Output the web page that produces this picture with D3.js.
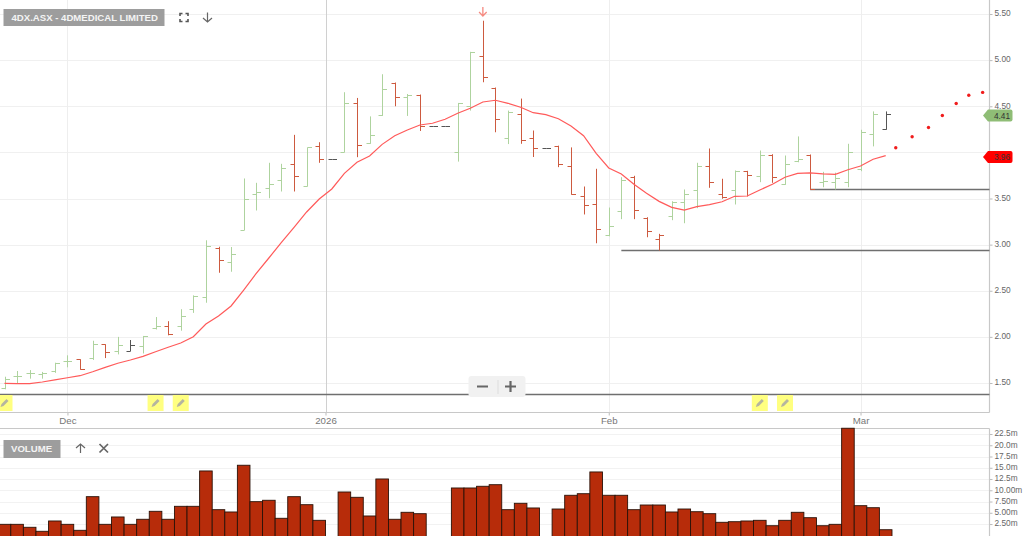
<!DOCTYPE html>
<html><head><meta charset="utf-8">
<script src="https://cdnjs.cloudflare.com/ajax/libs/d3/7.8.5/d3.min.js"></script>
<style>html,body{margin:0;padding:0;background:#fff;overflow:hidden}svg{display:block;font-family:"Liberation Sans",Arial,sans-serif}</style>
</head><body><svg id="c" width="1024" height="536"></svg>
<script>
const title = "4DX.ASX - 4DMEDICAL LIMITED";
const opens = [1.445,1.576,1.605,1.594,1.627,1.735,1.757,1.775,1.92,1.85,1.85,1.90,2.10,2.12,2.118,2.30,2.435,2.967,2.81,3.156,3.554,3.616,3.70,3.876,3.638,4.07,3.93,4.0,4.54,4.107,4.40,4.757,4.60,4.627,4.29,4.29,4.005,4.503,5.047,4.703,4.16,4.413,4.153,4.052,4.073,3.85,3.53,3.443,3.10,3.36,3.731,3.29,3.06,3.308,3.467,3.59,3.85,3.551,3.59,3.80,3.746,3.976,3.66,3.908,3.975,3.677,3.677,3.677,3.822,4.203,4.25];
const highs = [1.568,1.63,1.64,1.62,1.72,1.80,1.757,1.958,1.92,2.0,1.966,2.01,2.215,2.17,2.30,2.45,3.047,2.977,2.974,3.717,3.67,3.887,3.876,4.19,4.053,4.11,3.93,4.652,4.59,4.39,4.847,4.757,4.633,4.627,4.29,4.29,4.536,5.09,5.427,4.703,4.453,4.583,4.237,4.052,4.073,4.054,3.63,3.822,3.402,3.731,3.746,3.297,3.117,3.47,3.598,3.887,4.042,3.714,3.804,3.80,4.02,3.98,3.966,4.173,3.977,3.789,3.78,4.093,4.245,4.444,4.444];
const lows = [1.432,1.49,1.547,1.547,1.61,1.67,1.644,1.75,1.77,1.81,1.844,1.82,2.08,2.017,2.067,2.26,2.37,2.695,2.706,3.156,3.37,3.503,3.576,3.576,3.63,3.887,3.93,4.0,3.948,4.093,4.395,4.5,4.395,4.232,4.29,4.29,3.90,4.453,4.76,4.218,4.09,4.093,3.95,4.052,3.84,3.541,3.327,3.015,3.09,3.276,3.276,3.08,2.936,3.265,3.232,3.395,3.616,3.497,3.435,3.522,3.677,3.67,3.648,3.893,3.598,3.622,3.598,3.622,3.796,4.065,4.246];
const closes = [1.54,1.58,1.605,1.61,1.713,1.742,1.652,1.92,1.84,1.91,1.91,2.006,2.12,2.035,2.223,2.44,2.985,2.833,2.895,3.5,3.568,3.652,3.828,3.742,4.053,3.93,3.93,4.54,4.082,4.19,4.69,4.60,4.627,4.29,4.29,4.29,4.533,5.085,4.816,4.367,4.44,4.13,4.052,4.052,3.877,3.552,3.43,3.167,3.207,3.703,3.377,3.15,3.10,3.46,3.551,3.852,3.677,3.514,3.80,3.757,3.97,3.738,3.876,3.93,3.60,3.688,3.724,4.003,4.22,4.415,4.415];
const movingAverage = [1.497,1.493,1.493,1.511,1.533,1.557,1.579,1.622,1.670,1.714,1.749,1.789,1.839,1.887,1.934,2.002,2.140,2.226,2.335,2.508,2.689,2.855,3.025,3.188,3.354,3.495,3.603,3.773,3.892,3.961,4.087,4.181,4.243,4.297,4.316,4.359,4.424,4.478,4.546,4.565,4.532,4.489,4.430,4.409,4.365,4.286,4.181,3.990,3.831,3.766,3.654,3.556,3.469,3.404,3.375,3.411,3.433,3.465,3.524,3.527,3.592,3.654,3.730,3.773,3.777,3.766,3.762,3.812,3.852,3.925,3.964];
const projectionIndex = [70.8,72.1,73.4,74.5,75.6,76.6,77.7];
const projectionPrice = [4.05,4.17,4.27,4.40,4.53,4.62,4.65];
const volumes = [2.44,2.44,1.78,0.89,3.18,2.44,1.11,8.58,2.44,4.07,2.44,3.56,5.33,3.56,6.44,6.44,14.29,5.69,5.18,15.56,7.47,7.78,3.78,8.58,6.8,3.33,null,9.62,8.44,4.29,12.51,3.56,5.11,4.8,null,null,10.51,10.51,10.89,11.24,5.69,7.11,6.07,null,5.84,8.89,9.24,14.07,8.89,8.89,5.69,6.73,6.73,5.18,5.84,5.24,4.8,2.89,3.02,3.18,3.33,2.13,3.33,5.11,3.91,2.13,2.44,23.78,6.58,6.13,1.24];
const priceTicks = [1.5,2,2.5,3,3.5,4,4.5,5,5.5];
const volumeTicks = [2.5,5,7.5,10,12.5,15,17.5,20,22.5];
const volumeLabels = ["2.50m","5.00m","7.50m","10.00m","12.5m","15.0m","17.5m","20.0m","22.5m"];
const dateTickIndex = [5,25.5,48,68];
const dateTickLabels = ["Dec","2026","Feb","Mar"];
const supportPrice = [1.38,2.94,3.60];
const supportStart = [-1,49,64];
const noteIndex = [0,12,14,60,62];
const lastPrice = 4.41, lastAverage = 3.96, sellSignalIndex = 38;

const W = 989.5;
const FONT = '"Liberation Sans",Arial,sans-serif';
const x = d3.scaleLinear().domain([0,70]).range([4.5,885.7]);
const y = d3.scaleLinear().domain([1.5,5.5]).range([383,14]);
const yv = d3.scaleLinear().domain([0,22.5]).range([535.3,434]);
const px = v => Math.round(v)+0.5;
const svg = d3.select("#c");

// grid
svg.append("g").selectAll("line").data(priceTicks).join("line")
  .attr("x1",0).attr("x2",W).attr("y1",d=>px(y(d))).attr("y2",d=>px(y(d))).attr("stroke","#f0f0f0");
svg.append("g").selectAll("line").data(volumeTicks).join("line")
  .attr("x1",0).attr("x2",W).attr("y1",d=>px(yv(d))).attr("y2",d=>px(yv(d))).attr("stroke","#f2f2f2");
svg.append("g").selectAll("line").data(dateTickIndex).join("line")
  .attr("x1",d=>px(x(d))).attr("x2",d=>px(x(d))).attr("y1",0).attr("y2",412)
  .attr("stroke",(d,i)=>i==1?"#d0d0d0":"#eeeeee");

// value axes
const gp = svg.append("g").attr("transform",`translate(${W},0)`)
  .call(d3.axisRight(y).tickValues(priceTicks).tickSize(3).tickPadding(2).tickFormat(d3.format(".2f")));
const gv = svg.append("g").attr("transform",`translate(${W},0)`)
  .call(d3.axisRight(yv).tickValues(volumeTicks).tickSize(3).tickPadding(2).tickFormat((d,i)=>volumeLabels[i]));
[gp,gv].forEach(g=>{g.select(".domain").remove();
  g.selectAll("text").attr("fill","#666").attr("font-size",8.3).attr("font-family",FONT).attr("y",0).attr("dy","0.22em");
  g.selectAll("line").attr("stroke","#bbb");});
// the 4.00 label lies under the red flag in the picture
gp.selectAll(".tick").filter(d=>d===4).select("text").remove();

// date axis
const gd = svg.append("g").attr("transform","translate(0,412.5)")
  .call(d3.axisBottom(x).tickValues(dateTickIndex).tickSize(3).tickPadding(2).tickFormat((d,i)=>dateTickLabels[i]));
gd.select(".domain").remove();
gd.selectAll("line").attr("stroke","#bbb");
gd.selectAll("text").attr("fill","#777").attr("font-size",9.7).attr("font-family",FONT);
// frame
const frame = [[0,412.5,W,412.5],[0,428.5,W,428.5],[W,0,W,412.5],[W,428.5,W,536]];
svg.append("g").selectAll("line").data(frame).join("line")
  .attr("x1",d=>d[0]).attr("y1",d=>d[1]).attr("x2",d=>d[2]).attr("y2",d=>d[3]).attr("stroke","#c8c8c8").attr("stroke-width",1.2);

// support lines
svg.append("g").selectAll("line").data(supportPrice).join("line")
  .attr("x1",(d,i)=>x(supportStart[i])).attr("x2",W)
  .attr("y1",d=>px(y(d))).attr("y2",d=>px(y(d))).attr("stroke","#6f6f6f").attr("stroke-width",1.4);

// OHLC bars
const color = i => { const d = i==0?1:closes[i]-closes[i-1];
  return d>0?"#aed39e":d<0?"#cd5a3f":"#555"; };
const bars = svg.append("g").selectAll("g").data(closes).join("g").attr("stroke",(d,i)=>color(i));
bars.append("line").attr("x1",(d,i)=>px(x(i))).attr("x2",(d,i)=>px(x(i))).attr("y1",(d,i)=>y(highs[i])).attr("y2",(d,i)=>y(lows[i]));
bars.append("line").attr("x1",(d,i)=>px(x(i))-4).attr("x2",(d,i)=>px(x(i))).attr("y1",(d,i)=>px(y(opens[i]))).attr("y2",(d,i)=>px(y(opens[i])));
bars.append("line").attr("x1",(d,i)=>px(x(i))).attr("x2",(d,i)=>px(x(i))+4.5).attr("y1",(d,i)=>px(y(closes[i]))).attr("y2",(d,i)=>px(y(closes[i])));

// moving average + projection
svg.append("path").attr("d",d3.line().x((d,i)=>x(i)).y(d=>y(d))(movingAverage))
  .attr("fill","none").attr("stroke","#ff5a5a").attr("stroke-width",1.2);
svg.append("g").selectAll("circle").data(projectionPrice).join("circle")
  .attr("cx",(d,i)=>x(projectionIndex[i])).attr("cy",d=>y(d)).attr("r",1.7).attr("fill","#f01c1c");

// sell arrow
const ax = x(sellSignalIndex);
svg.append("path").attr("d",`M${ax},7V16M${ax-3.8},12L${ax},16L${ax+3.8},12`).attr("fill","none").attr("stroke","#f58a80").attr("stroke-width",1.3);

// notes
const notes = svg.append("g").selectAll("g").data(noteIndex).join("g")
  .attr("transform",d=>`translate(${x(d)},403)`);
notes.append("rect").attr("x",-8).attr("y",-8).attr("width",16).attr("height",16).attr("fill","#ffff80");
notes.append("path").attr("d","M-4,4L-3,1L2,-4L4,-2L-1,3Z").attr("fill","#b5b5a0");

// zoom control
const zc = svg.append("g");
zc.append("rect").attr("x",468.5).attr("y",376).attr("width",57).attr("height",21).attr("rx",3).attr("fill","#f1f1f1");
zc.append("line").attr("x1",498).attr("x2",498).attr("y1",380).attr("y2",394).attr("stroke","#ddd");
zc.append("path").attr("d","M477,386.5H488M505,386.5H516M510.5,381V392").attr("stroke","#666").attr("stroke-width",2.2).attr("fill","none");

// volume
const volumeDays = d3.range(volumes.length).filter(i=>volumes[i]!==null);
svg.append("g").selectAll("rect").data(volumeDays).join("rect")
  .attr("x",i=>x(i)-6.3).attr("width",12.59)
  .attr("y",i=>yv(volumes[i])).attr("height",i=>yv(0)-yv(volumes[i])+2)
  .attr("fill","#b72c0a").attr("stroke","#2a1208").attr("stroke-width",0.9);

// labels
function badge(bx,by,w,h,text,tx){
  svg.append("rect").attr("x",bx).attr("y",by).attr("width",w).attr("height",h).attr("fill","#9d9d9d");
  svg.append("text").attr("x",tx).attr("y",by+h/2+3.4).attr("fill","#f4f4f4").attr("font-size",9.6).attr("font-weight","bold").text(text);
}
badge(3.5,9,161,17,title,11.5);
badge(3.5,440,57,18,"VOLUME",11);

const ic = svg.append("g").attr("fill","none").attr("stroke","#666").attr("stroke-width",1.2);
ic.append("path").attr("d","M180,16V13.5H182.5M185.5,13.5H188V16M188,19V21.5H185.5M182.5,21.5H180V19").attr("stroke-width",1.6).attr("stroke","#555");
ic.append("path").attr("d","M207.5,12.5V22M203,18L207.5,22L212,18");
ic.append("path").attr("d","M80.5,453V444M76,448L80.5,444L85,448");
ic.append("path").attr("d","M99.5,444L108,452.5M108,444L99.5,452.5").attr("stroke-width",1.7);

// price flags
function flag(value,fill){
  const c=y(value)+1;
  svg.append("path").attr("d",`M983,${c}L988,${c-6}H1010.5Q1012.5,${c-6} 1012.5,${c-4}V${c+4}Q1012.5,${c+6} 1010.5,${c+6}H988Z`).attr("fill",fill);
  svg.append("text").attr("x",1002).attr("y",c+3).attr("text-anchor","middle").attr("font-size",8.3).attr("fill","#333").text(d3.format(".2f")(value));
}
flag(lastPrice,"#8fbd76");
flag(lastAverage,"#ff0000");
</script></body></html>
